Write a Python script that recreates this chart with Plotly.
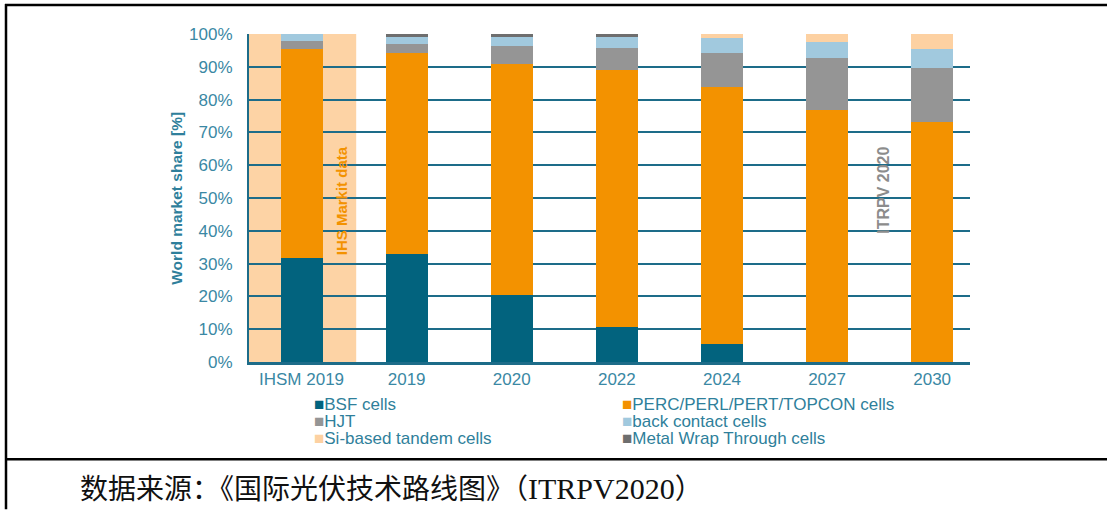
import plotly.graph_objects as go

categories = ["IHSM 2019", "2019", "2020", "2022", "2024", "2027", "2030"]
bsf = [31.8, 33.0, 20.5, 10.8, 5.6, 0, 0]
perc = [63.6, 61.2, 70.4, 78.2, 78.2, 76.7, 73.3]
hjt = [2.5, 2.7, 5.4, 6.7, 10.5, 16.0, 16.4]
back_contact = [2.1, 2.1, 2.7, 3.4, 4.4, 4.8, 5.7]
tandem = [0, 0, 0, 0, 1.3, 2.5, 4.6]
mwt = [0, 1.0, 1.0, 0.9, 0, 0, 0]
y_ticks = [0, 10, 20, 30, 40, 50, 60, 70, 80, 90, 100]
y_tick_labels = [f"{v}%" for v in y_ticks]

series = [
    ("BSF cells", bsf, "#02637e"),
    ("PERC/PERL/PERT/TOPCON cells", perc, "#f39200"),
    ("HJT", hjt, "#959595"),
    ("back contact cells", back_contact, "#a1c9de"),
    ("Si-based tandem cells", tandem, "#fdd1a2"),
    ("Metal Wrap Through cells", mwt, "#6e6e6e"),
]

W, H = 1107, 510
L, R, T, B = 249, 970, 34, 362.5  # plot area in window pixels
TEAL = "#2f7f9b"
GRID = "#1d6c89"
FONT = "Liberation Sans, Arial"


def px(x):
    return (x - L) / (R - L)


def py(y):
    return (B - y) / (B - T)


fig = go.Figure()
for name, vals, color in series:
    fig.add_trace(go.Bar(
        x=categories, y=vals, name=name, marker_color=color,
        marker_line_width=0, width=0.4, showlegend=False,
    ))

# shaded IHS Markit region around first category
idx = 0
fig.add_shape(type="rect", xref="x", yref="y", x0=idx - 0.5, x1=idx + 0.52,
              y0=0, y1=100, fillcolor="#fdd3a5", line_width=0, layer="below")

# frame lines (table borders)
frame = dict(color="black", width=2.5)
fig.add_shape(type="line", xref="paper", yref="paper", x0=px(5), x1=px(1107),
              y0=py(5), y1=py(5), line=frame)
fig.add_shape(type="line", xref="paper", yref="paper", x0=px(6), x1=px(6),
              y0=py(4), y1=py(510), line=frame)
fig.add_shape(type="line", xref="paper", yref="paper", x0=px(5), x1=px(1107),
              y0=py(460), y1=py(460), line=frame)

ann = []
ann.append(dict(x=px(341.5), y=py(201), xref="paper", yref="paper", text="<b>IHS Markit data</b>",
                textangle=-90, showarrow=False, xanchor="center", yanchor="middle",
                font=dict(family=FONT, size=15, color="#f39200")))
ann.append(dict(x=px(884), y=py(191), xref="paper", yref="paper", text="<b>ITRPV 2020</b>",
                textangle=-90, showarrow=False, xanchor="center", yanchor="middle",
                font=dict(family=FONT, size=16, color="#8c8c8c")))
ann.append(dict(x=px(177), y=py(199), xref="paper", yref="paper", text="<b>World market share [%]</b>",
                textangle=-90, showarrow=False, xanchor="center", yanchor="middle",
                font=dict(family=FONT, size=15.5, color=TEAL)))

# legend as text rows (two columns)
col_x = [312, 620]
row_y = [405, 422, 439]
for i, (name, vals, color) in enumerate(series):
    c, r = i % 2, i // 2
    ann.append(dict(
        x=px(col_x[c]), y=py(row_y[r]), xref="paper", yref="paper", xanchor="left", yanchor="middle",
        text=f"<span style='color:{color};font-size:17px'>■</span>{name}",
        showarrow=False, font=dict(family=FONT, size=17, color=TEAL)))

ann.append(dict(x=px(78), y=py(489), xref="paper", yref="paper", xanchor="left", yanchor="middle",
                text="数据来源：《国际光伏技术路线图》（<span style='font-size:30px'>ITRPV2020</span>）",
                showarrow=False,
                font=dict(family="Liberation Serif, Noto Sans CJK SC", size=28, color="#111111")))

fig.update_layout(
    width=W, height=H, barmode="stack",
    margin=dict(l=L, r=W - R, t=T, b=H - B, pad=0),
    paper_bgcolor="white", plot_bgcolor="white",
    annotations=ann, bargap=0.6,
    font=dict(family=FONT, color=TEAL),
)
fig.update_xaxes(type="category", range=[-0.5, 6.36], showgrid=False,
                 showline=True, linecolor=GRID, linewidth=3, ticks="",
                 tickfont=dict(size=17, color="#3a88a4"), ticklabelstandoff=0)
fig.update_yaxes(range=[0, 100], tickvals=y_ticks, ticktext=y_tick_labels,
                 showgrid=True, gridcolor=GRID, gridwidth=2, zeroline=False,
                 showline=True, linecolor=GRID, linewidth=2, ticks="",
                 tickfont=dict(size=17, color="#3a88a4"), ticklabelstandoff=11)

fig.write_html(
    "out.html",
    config={"displayModeBar": False},
    post_script=(
        "document.documentElement.style.overflow='hidden';"
        "document.body.style.margin='0';document.body.style.overflow='hidden';"
    ),
)
